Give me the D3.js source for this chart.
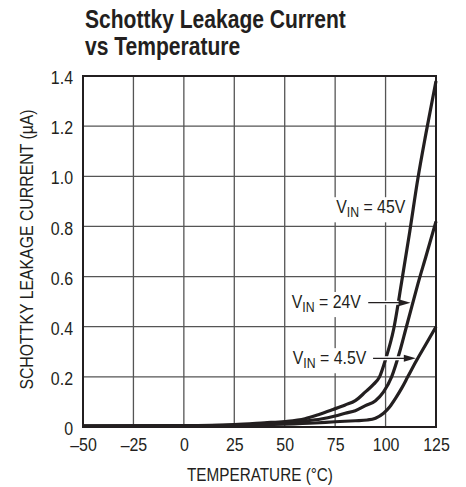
<!DOCTYPE html>
<html><head><meta charset="utf-8">
<script src="https://cdn.jsdelivr.net/npm/d3@7"></script>
<style>
html,body{margin:0;padding:0;background:#fff;}
svg{display:block;}
text{font-family:"Liberation Sans",Arial,Helvetica,sans-serif;fill:#231f20;}
</style></head>
<body>
<script>
// ---- data (temperature °C, leakage µA) ----
const xTicks = [-50, -25, 0, 25, 50, 75, 100, 125];
const yTicks = [0, 0.2, 0.4, 0.6, 0.8, 1.0, 1.2, 1.4];
const yTickLabels = ["0", "0.2", "0.4", "0.6", "0.8", "1.0", "1.2", "1.4"];
const v45 = [[-50,0.005],[0,0.006],[25,0.01],[40,0.017],[50,0.022],[60,0.033],[67,0.05],[74,0.07],[80,0.088],[85,0.105],[90,0.14],[94,0.17],[97,0.2],[100,0.27],[104,0.39],[108,0.58],[112,0.78],[116,0.99],[120,1.17],[125,1.38]];
const v24 = [[-50,0.004],[0,0.005],[25,0.008],[50,0.017],[60,0.024],[68,0.032],[75,0.044],[80,0.055],[85,0.065],[90,0.085],[95,0.105],[99,0.14],[103,0.2],[107,0.3],[110,0.39],[113,0.48],[116,0.57],[120,0.68],[125,0.82]];
const v4p5 = [[-50,0.003],[0,0.004],[25,0.006],[50,0.011],[65,0.016],[75,0.021],[85,0.025],[91,0.028],[95,0.035],[99,0.055],[102,0.08],[105,0.115],[108,0.155],[111,0.2],[115,0.26],[120,0.33],[125,0.40]];
const titleLines = ["Schottky Leakage Current", "vs Temperature"];
const xTitle = "TEMPERATURE (°C)";
const yTitle = "SCHOTTKY LEAKAGE CURRENT (µA)";
// annotation labels: text start anchor [T, I], arrow at current I from T0 to T1
const labels = [
  {v:"45V", t:75.5, i:0.853, arrow:null},
  {v:"24V", t:53.5, i:0.475, arrow:{i:0.496, t0:91.4, t1:112.4}},
  {v:"4.5V", t:54, i:0.251, arrow:{i:0.274, t0:93.8, t1:115.0}}
];

const W = 466, H = 487;
const L = 83, R = 436, T = 76, B = 427;
const K = 0.84; // horizontal condensing factor
const svg = d3.select("body").append("svg").attr("width", W).attr("height", H);
const x = d3.scaleLinear().domain([-50, 125]).range([L, R]);
const y = d3.scaleLinear().domain([0, 1.4]).range([B, T]);

function condensed(parent, px, py, size, k, anchor) {
  const g = parent.append("g").attr("transform", `translate(${px},${py}) scale(${k},1)`);
  return g.append("text").attr("x", 0).attr("y", 0).attr("text-anchor", anchor || "start").style("font-size", size + "px");
}

// title
condensed(svg, 85, 28, 26, 0.81).style("font-weight","bold").text(titleLines[0]);
condensed(svg, 85, 55, 26, 0.81).style("font-weight","bold").text(titleLines[1]);

// grid
const g = svg.append("g");
g.selectAll(".vg").data(xTicks.slice(1, -1)).enter().append("line")
  .attr("x1", d=>x(d)).attr("x2", d=>x(d)).attr("y1", T).attr("y2", B)
  .attr("stroke", "#555").attr("stroke-width", 1.3);
g.selectAll(".hg").data(yTicks.slice(1, -1)).enter().append("line")
  .attr("y1", d=>y(d)).attr("y2", d=>y(d)).attr("x1", L).attr("x2", R)
  .attr("stroke", "#555").attr("stroke-width", 1.3);

// axes (labels only, via d3 axes)
const xAxis = svg.append("g").attr("transform", `translate(0,${B})`)
  .call(d3.axisBottom(x).tickValues(xTicks).tickSize(0).tickPadding(11).tickFormat(d => d < 0 ? "\u2013" + Math.abs(d) : d));
xAxis.select(".domain").remove();
xAxis.selectAll("text").attr("font-family", null).attr("font-size", null).style("font-size","19px").attr("fill","#231f20")
  .attr("transform", `scale(${K},1)`);
const yAxis = svg.append("g").attr("transform", `translate(${L},0)`)
  .call(d3.axisLeft(y).tickValues(yTicks).tickSize(0).tickPadding(10).tickFormat((d,i)=>yTickLabels[i]));
yAxis.select(".domain").remove();
yAxis.selectAll("text").attr("font-family", null).attr("font-size", null).style("font-size","19px").attr("fill","#231f20")
  .attr("x", -10 / K).attr("dy", "0.4em").attr("transform", `scale(${K},1)`);
xAxis.attr("font-family", null).attr("font-size", null);
yAxis.attr("font-family", null).attr("font-size", null);

// axis titles
condensed(svg, 260, 481, 18, 0.85, "middle").text(xTitle);
svg.append("g").attr("transform", `translate(33,${(T+B)/2 - 2}) rotate(-90) scale(0.88,1)`)
  .append("text").attr("text-anchor","middle").style("font-size","18px").text(yTitle);

// annotation labels with white backgrounds
labels.forEach(l => {
  const grp = svg.append("g").attr("transform", `translate(${x(l.t)},${y(l.i)}) scale(0.88,1)`);
  const tx = grp.append("text").attr("x", 0).attr("y", 0).style("font-size","18px");
  tx.append("tspan").text("V");
  tx.append("tspan").attr("dy", 4).style("font-size","14px").text("IN");
  tx.append("tspan").attr("dy", -4).text(" = " + l.v);
  const bb = tx.node().getBBox();
  grp.insert("rect", "text").attr("x", bb.x - 5).attr("y", bb.y).attr("width", bb.width + 10).attr("height", bb.height + 2).attr("fill", "#fff");
});

// curves
const line = d3.line().x(d=>x(d[0])).y(d=>y(d[1])).curve(d3.curveMonotoneX);
[v45, v24, v4p5].forEach(s => {
  svg.append("path").datum(s).attr("d", line).attr("fill","none")
    .attr("stroke","#231f20").attr("stroke-width", 3.2).attr("stroke-linejoin","round");
});

// arrows
labels.filter(l => l.arrow).forEach(l => {
  const a = l.arrow;
  const x0 = x(a.t0), x1 = x(a.t1), yy = y(a.i);
  svg.append("line").attr("x1", x0).attr("x2", x1 - 8).attr("y1", yy).attr("y2", yy).attr("stroke","#fff").attr("stroke-width", 4);
  svg.append("line").attr("x1", x0).attr("x2", x1 - 8).attr("y1", yy).attr("y2", yy).attr("stroke","#231f20").attr("stroke-width", 1.2);
  svg.append("path").attr("d", `M${x1},${yy} L${x1-12},${yy-3.5} L${x1-12},${yy+3.5} Z`).attr("fill","#231f20");
});

// frame
svg.append("rect").attr("x", L).attr("y", T).attr("width", R-L).attr("height", B-T)
  .attr("fill","none").attr("stroke","#231f20").attr("stroke-width", 2);
</script>
</body></html>
